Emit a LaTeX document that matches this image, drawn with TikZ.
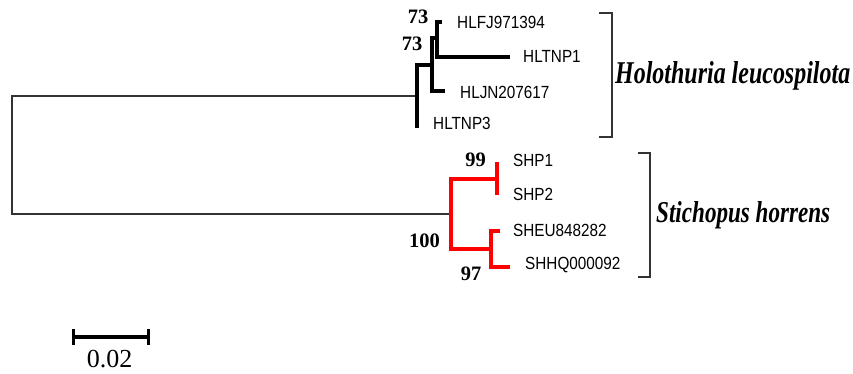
\documentclass[tikz,border=0pt]{standalone}
\usepackage{fontspec}
\usepackage{graphicx}
\setmainfont{Liberation Serif}
\newfontfamily\labfont{Liberation Sans}
\begin{document}
\begin{tikzpicture}[x=1pt,y=-1pt,
  thinl/.style={line width=1.3pt, black!80},
  blk/.style={line width=4pt, black, line join=miter},
  redbr/.style={line width=3.5pt, red, line join=miter},
  brk/.style={line width=1.3pt, black!80},
  leaf/.style={anchor=west, inner sep=0pt, font=\labfont\fontsize{15.3}{18}\selectfont},
  boot/.style={inner sep=0pt, font=\bfseries\fontsize{20.5}{24}\selectfont},
  species/.style={anchor=base west, inner sep=0pt}]
\useasboundingbox (0,0) rectangle (853,373);
% coordinates
\coordinate (root) at (12,155);
\coordinate (h0) at (417,96);
\coordinate (h1) at (432,65);
\coordinate (h2) at (437,38);
\coordinate (t1) at (442,22);
\coordinate (t2) at (510,57);
\coordinate (t3) at (445,91);
\coordinate (t4) at (417,128);
\coordinate (r0) at (451,214);
\coordinate (r1) at (497,179);
\coordinate (r2) at (491,249);
\coordinate (s1) at (497,162);
\coordinate (s2) at (497,195);
\coordinate (s3) at (500,231);
\coordinate (s4) at (510,267);
% root
\draw[thinl] (h0) -- (root |- h0) -- (root |- r0) -- (r0);
% black clade
\draw[blk] (t4) -- (h0 |- h1) -- (h1);
\draw[blk] (h1) -- (h1 |- h2) -- (h2);
\draw[blk] (h1) -- (h1 |- t3) -- (t3);
\draw[blk] (t1) -- (h2 |- t1) -- (h2 |- t2) -- (t2);
% red clade
\draw[redbr] (r1) -- (r0 |- r1) -- (r0 |- r2) -- (r2);
\draw[redbr] (s1) -- (s2);
\draw[redbr] (s3) -- (r2 |- s3) -- (r2 |- s4) -- (s4);
% leaf labels
\node[leaf] (l1) at (457,22) {\scalebox{1}[1.15]{HLFJ971394}};
\node[leaf] (l2) at (523,56) {\scalebox{1}[1.15]{HLTNP1}};
\node[leaf] (l3) at (460,92.5) {\scalebox{1}[1.15]{HLJN207617}};
\node[leaf] (l4) at (433,123.5) {\scalebox{1}[1.15]{HLTNP3}};
\node[leaf] (l5) at (513,160.5) {\scalebox{1}[1.15]{SHP1}};
\node[leaf] (l6) at (513,194.5) {\scalebox{1}[1.15]{SHP2}};
\node[leaf] (l7) at (513,230.5) {\scalebox{1}[1.15]{SHEU848282}};
\node[leaf] (l8) at (525,265.5) {\scalebox{1}[1.15]{SHHQ000092}};
% bootstrap values
\node[boot] (b1) at (418,17) {73};
\node[boot] (b2) at (412,43.5) {73};
\node[boot] (b3) at (475.5,159.5) {99};
\node[boot] (b4) at (424.5,240.5) {100};
\node[boot] (b5) at (471,273.5) {97};
% brackets
\coordinate (ka) at (599,13);
\coordinate (kb) at (612,137);
\draw[brk] (ka) -- (kb |- ka) -- (kb) -- (ka |- kb);
\coordinate (kc) at (638,153);
\coordinate (kd) at (650,277);
\draw[brk] (kc) -- (kd |- kc) -- (kd) -- (kc |- kd);
% species names
\node[species] (sp1) at (615,83) {\resizebox{235pt}{22pt}{\bfseries\itshape Holothuria leucospilota}};
\node[species] (sp2) at (656,222) {\resizebox{174pt}{21pt}{\bfseries\itshape Stichopus horrens}};
% scale bar
\coordinate (sa) at (73,337);
\coordinate (sb) at (148,337);
\draw[line width=3.5pt] (sa) -- (sb);
\draw[line width=3pt] ([yshift=-7.5pt]sa) -- ([yshift=8pt]sa);
\draw[line width=3pt] ([yshift=-7.5pt]sb) -- ([yshift=8pt]sb);
\node[inner sep=0pt, font=\fontsize{26}{30}\selectfont] (sl) at (109.5,359) {0.02};
\end{tikzpicture}
\end{document}
